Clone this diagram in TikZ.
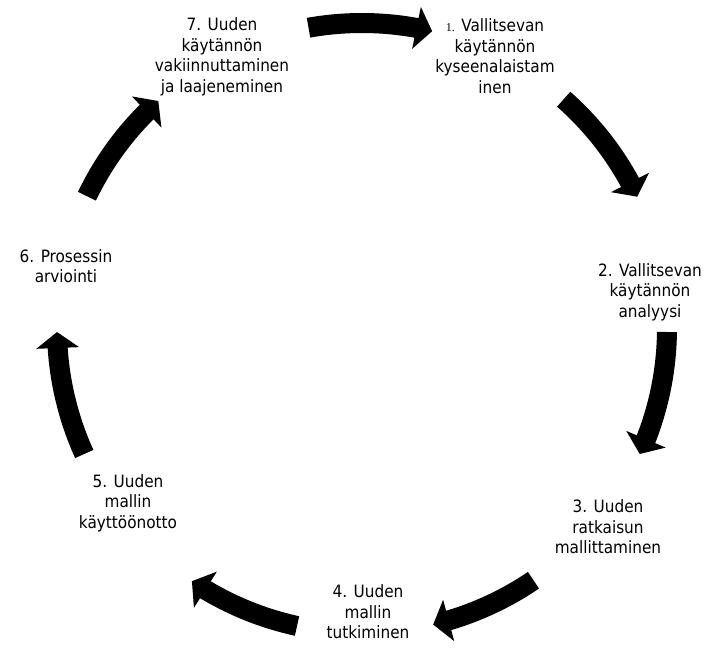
\documentclass[tikz,border=0pt]{standalone}
\usepackage{fontspec}
\setmainfont{DejaVu Sans Condensed}
\newfontfamily\numfont{Liberation Serif}
\usetikzlibrary{arrows.meta,bending}

\begin{document}
\begin{tikzpicture}[x=1pt,y=1pt]
  \tikzstyle{phase}=[align=center,inner sep=0pt,font=\fontsize{17}{20.5}\selectfont]
  \tikzstyle{cycarrow}=[line width=20pt,-{Triangle[width=42pt,length=16pt,flex]}]
  \useasboundingbox (0,0) rectangle (719,-669);
  \coordinate (c) at (362,-328);

  \node[phase] (n1) at (495,-56) {{\numfont\fontsize{12}{12}\selectfont 1.} Vallitsevan\\käytännön\\kyseenalaistam\\inen};
  \node[phase] (n2) at (650,-292) {2. Vallitsevan\\käytännön\\analyysi};
  \node[phase] (n3) at (608,-527) {3. Uuden\\ratkaisun\\mallittaminen};
  \node[phase] (n4) at (368,-612) {4. Uuden\\mallin\\tutkiminen};
  \node[phase] (n5) at (128,-503) {5. Uuden\\mallin\\käyttöönotto};
  \node[phase] (n6) at (66,-266) {6. Prosessin\\arviointi};
  \node[phase] (n7) at (222,-57) {7. Uuden\\käytännön\\vakiinnuttaminen\\ja laajeneminen};

  % arrows between the phases
  \foreach \s/\e in {100.1/76.7,48.6/25.5,-0.75/-24.4,-55.8/-76.5,-102.3/-123.9,-155.6/-179.25,154.4/131.9}
    \draw[cycarrow] ([shift={(\s:305)}]c) arc[start angle=\s,end angle=\e,radius=305];
\end{tikzpicture}
\end{document}
